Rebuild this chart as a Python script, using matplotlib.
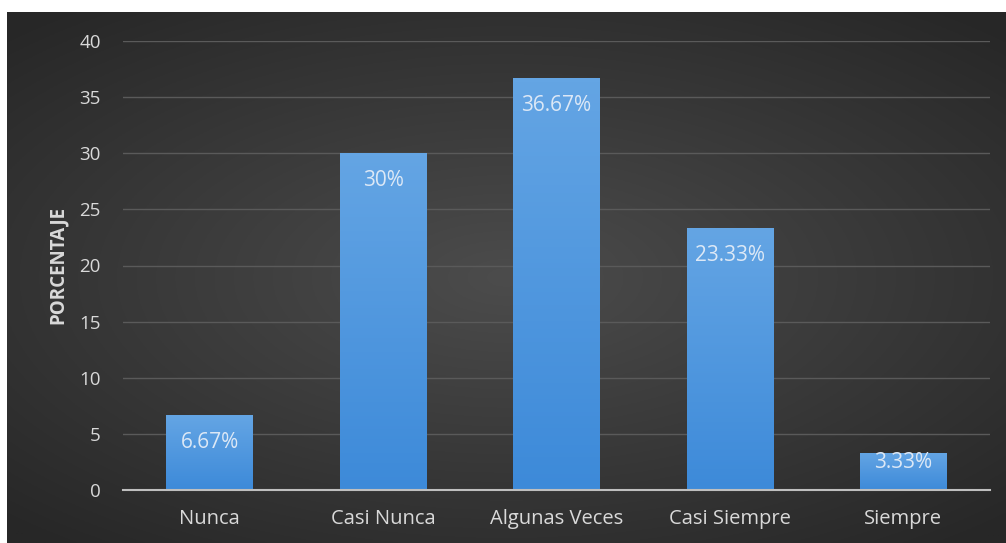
import numpy as np
import matplotlib
matplotlib.use("Agg")
import matplotlib.pyplot as plt
from matplotlib import patheffects as pe

categories = ["Nunca", "Casi Nunca", "Algunas Veces", "Casi Siempre", "Siempre"]
values = [6.67, 30, 36.67, 23.33, 3.33]
labels = ["6.67%", "30%", "36.67%", "23.33%", "3.33%"]
yticks = [0, 5, 10, 15, 20, 25, 30, 35, 40]

plt.rcParams['font.family'] = ['Open Sans', 'DejaVu Sans']

W, H = 1006, 543
fig = plt.figure(figsize=(W / 100, H / 100), dpi=100, facecolor="white")

# background panel with radial gradient
bg = fig.add_axes([7 / W, 0, 1 - 7 / W, (H - 12) / H])
bg.set_axis_off()
yy, xx = np.mgrid[-1:1:300j, -1:1:600j]
r = np.sqrt((xx * 0.9) ** 2 + (yy * 1.0) ** 2)
r = np.clip(r / 1.3, 0, 1)
c0 = np.array([0x4c, 0x4c, 0x4c]) / 255
c1 = np.array([0x27, 0x27, 0x27]) / 255
img = c0[None, None, :] * (1 - r[..., None]) + c1[None, None, :] * r[..., None]
bg.imshow(img, aspect="auto", extent=[0, 1, 0, 1])
bg.set_xlim(0, 1)
bg.set_ylim(0, 1)

ax = fig.add_axes([123 / W, (H - 490) / H, (990 - 123) / W, (490 - 41) / H])
ax.patch.set_alpha(0)
x = np.arange(len(categories))
bars = ax.bar(x, values, width=0.5, color="#4f95dc", zorder=3,
              path_effects=[pe.SimplePatchShadow(offset=(0, 0), shadow_rgbFace="#1a2a40", alpha=0.6),
                            pe.Normal()])

# gradient overlay on bars
grad = np.linspace(0, 1, 100)[:, None]
top = np.array([0x64, 0xa5, 0xe4]) / 255
bot = np.array([0x3d, 0x8a, 0xd9]) / 255
gimg = top[None, None, :] * (1 - grad[..., None]) + bot[None, None, :] * grad[..., None]
for b in bars:
    x0, y0 = b.get_x(), b.get_y()
    w, h = b.get_width(), b.get_height()
    im = ax.imshow(gimg, aspect="auto", extent=[x0, x0 + w, y0, y0 + h], zorder=4)
    im.set_clip_path(b)

ax.set_xlim(-0.5, len(categories) - 0.5)
ax.set_ylim(0, 40)
ax.set_yticks(yticks)
ax.set_xticks(x)
ax.set_xticklabels(categories)

px_per_unit = (490 - 41) / 40.0
for v, lab, xi in zip(values, labels, x):
    off = -27 if v * px_per_unit > 60 else -10
    ax.annotate(lab, (xi, v), xytext=(0, off), textcoords="offset pixels",
                ha="center", va="center", color="#dce8f6", fontsize=15, zorder=5)

ax.grid(axis="y", color="#5a5a5a", linewidth=1, zorder=0)
ax.set_axisbelow(True)
for s in ["top", "right", "left"]:
    ax.spines[s].set_visible(False)
ax.spines["bottom"].set_color("#bfbfbf")
ax.spines["bottom"].set_linewidth(1.5)
ax.spines["bottom"].set_zorder(6)
ax.tick_params(axis="both", length=0, colors="#d9d9d9")
ax.tick_params(axis="y", pad=16, labelsize=13.5)
ax.tick_params(axis="x", pad=14, labelsize=14.5)
ax.set_ylabel("PORCENTAJE", color="#d9d9d9", fontsize=13.5, fontweight="bold", labelpad=8)

fig.savefig("out.png", dpi=100, facecolor="white")
